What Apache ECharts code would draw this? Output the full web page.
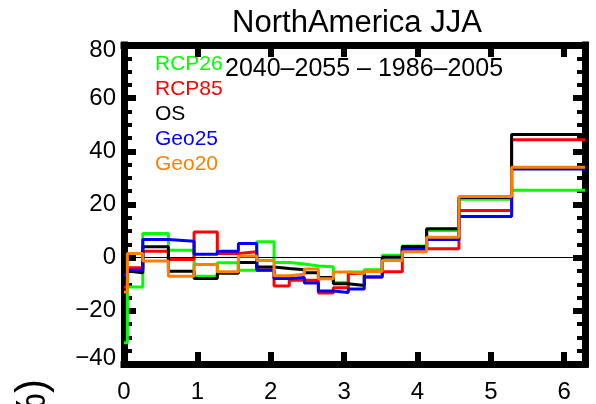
<!DOCTYPE html>
<html><head><meta charset="utf-8">
<script src="https://cdn.jsdelivr.net/npm/echarts@6/dist/echarts.min.js"></script>
<style>html,body{margin:0;padding:0;background:#fff}#c{width:596px;height:404px}</style>
</head><body><div id="c"></div>
<script>
// Bin edges along x (0 .. 2*pi)
const binEdges = [0, 0.046, 0.256, 0.605, 0.955, 1.272, 1.559, 1.809, 2.045, 2.253, 2.458, 2.649, 2.853, 3.057, 3.275, 3.52, 3.793, 4.125, 4.565, 5.283, 6.2832];
const seriesNames = ['RCP26', 'RCP85', 'OS', 'Geo25', 'Geo20'];
const seriesColors = ['#00ff00', '#ff0000', '#000000', '#0000ff', '#ff8000'];
const rcp26 = [-32, -11, 9.1, 2.8, -7.0, -1.9, -4.7, 6.0, -1.8, -2.4, -3.1, -3.4, -9.3, -5.4, -4.5, 0.9, 4.4, 10.2, 22.0, 25.4];
const rcp85 = [-11, -3.8, 2.4, -0.7, 9.7, 1.6, 2.2, -4.6, -10.7, -8.5, -8.5, -13.3, -11.3, -6.0, -7.3, -5.3, 3.4, 3.4, 17.7, 44.4];
const os = [-5, -5.7, 4.1, -5.1, -7.8, -5.9, -1.8, -3.5, -4.1, -4.5, -5.7, -7.5, -9.8, -10.5, -5.2, 0.2, 4.2, 10.9, 22.6, 46.3];
const geo25 = [-6.6, -4.7, 6.8, 6.2, 1.3, 2.4, 5.3, -4.7, -7.8, -7.5, -9.5, -12.5, -13.1, -11.8, -7.3, -1.1, 3.1, 6.8, 15.5, 33.4];
const geo20 = [-12.9, 1.6, -1.3, -7.0, -2.6, -5.3, 0.6, -1.1, -6.8, -6.2, -4.3, -7.9, -5.4, -6.0, -5.2, -1.1, 2.2, 7.7, 23.0, 34.0];
const xTicks = [0, 1, 2, 3, 4, 5, 6];
const yTicks = [-40, -20, 0, 20, 40, 60, 80];
const titleText = 'NorthAmerica JJA';
const subtitleText = '2040–2055 – 1986–2005';
const yName = 'Change (%)';

const allValues = [rcp26, rcp85, os, geo25, geo20];
const FONT = "'Liberation Sans', Arial, Helvetica, sans-serif";

function stepData(edges, vals) {
  const pts = [];
  for (let i = 0; i < vals.length; i++) {
    pts.push([edges[i], vals[i]]);
    pts.push([edges[i + 1], vals[i]]);
  }
  return pts;
}

const axisLine = { show: true, onZero: false, lineStyle: { color: '#000', width: 7, cap: 'square' } };
const axisTick = { show: true, inside: true, length: 12, lineStyle: { color: '#000', width: 6 } };
const minorTick = { show: true, splitNumber: 4, length: 8, lineStyle: { color: '#000', width: 4 } };
const xMin = binEdges[0], xMax = binEdges[binEdges.length - 1];
const yMin = yTicks[0], yMax = yTicks[yTicks.length - 1];

const series = seriesNames.map((n, i) => ({
  name: n, type: 'line', data: stepData(binEdges, allValues[i]),
  symbol: 'none', lineStyle: { color: seriesColors[i], width: 3 }, itemStyle: { color: seriesColors[i] },
  animation: false, z: 3 + i,
  markLine: i === 0 ? { silent: true, symbol: 'none', label: { show: false },
    lineStyle: { color: '#000', width: 1.2, type: 'solid' }, data: [{ yAxis: 0 }], animation: false } : undefined
}));

function yLabel(v) {
  if (yTicks.indexOf(v) < 0) return '';
  const s = v < 0 ? '−' + Math.abs(v) : String(v);
  if (v === yMax) return '{hi|' + s + '}';
  if (v === yMin) return '{lo|' + s + '}';
  return s;
}

const chart = echarts.init(document.getElementById('c'), null, { renderer: 'canvas' });
chart.setOption({
  animation: false,
  backgroundColor: '#fff',
  grid: { left: 124, right: 11, top: 45, bottom: 40 },
  xAxis: [
    { type: 'value', min: xMin, max: xMax, interval: 1, position: 'bottom',
      axisLine, axisTick, splitLine: { show: false },
      axisLabel: { show: true, margin: 16, color: '#000', fontSize: 24, fontFamily: FONT,
        formatter: v => (xTicks.indexOf(v) >= 0 ? String(v) : '') } },
    { type: 'value', min: xMin, max: xMax, interval: 1, position: 'top',
      axisLine, axisTick, splitLine: { show: false }, axisLabel: { show: false } }
  ],
  yAxis: [
    { type: 'value', min: yMin, max: yMax, interval: 20, position: 'left',
      axisLine, axisTick, minorTick, splitLine: { show: false },
      axisLabel: { show: true, margin: 8, color: '#000', fontSize: 24, fontFamily: FONT, formatter: yLabel,
        rich: {
          hi: { fontSize: 24, fontFamily: FONT, color: '#000', padding: [10, 0, 0, 0] },
          lo: { fontSize: 24, fontFamily: FONT, color: '#000', padding: [0, 0, 12, 0] }
        } } },
    { type: 'value', min: yMin, max: yMax, interval: 20, position: 'right',
      axisLine, axisTick, minorTick, splitLine: { show: false }, axisLabel: { show: false } }
  ],
  series,
  graphic: [
    { type: 'text', x: 357, y: 23, style: { text: titleText, fill: '#000', font: '31px ' + FONT, textAlign: 'center', textVerticalAlign: 'middle' } },
    { type: 'text', x: 225, y: 69, style: { text: subtitleText, fill: '#000', font: '25px ' + FONT, textAlign: 'left', textVerticalAlign: 'middle' } },
    ...seriesNames.map((n, i) => ({ type: 'text', x: 155, y: 64 + i * 25,
      style: { text: n, fill: seriesColors[i], font: '21px ' + FONT, textAlign: 'left', textVerticalAlign: 'middle' } })),
    { type: 'text', x: 33, y: 379, rotation: Math.PI / 2,
      style: { text: yName, fill: '#000', font: '42px ' + FONT, textAlign: 'right', textVerticalAlign: 'middle' } }
  ]
});
</script>
</body></html>
